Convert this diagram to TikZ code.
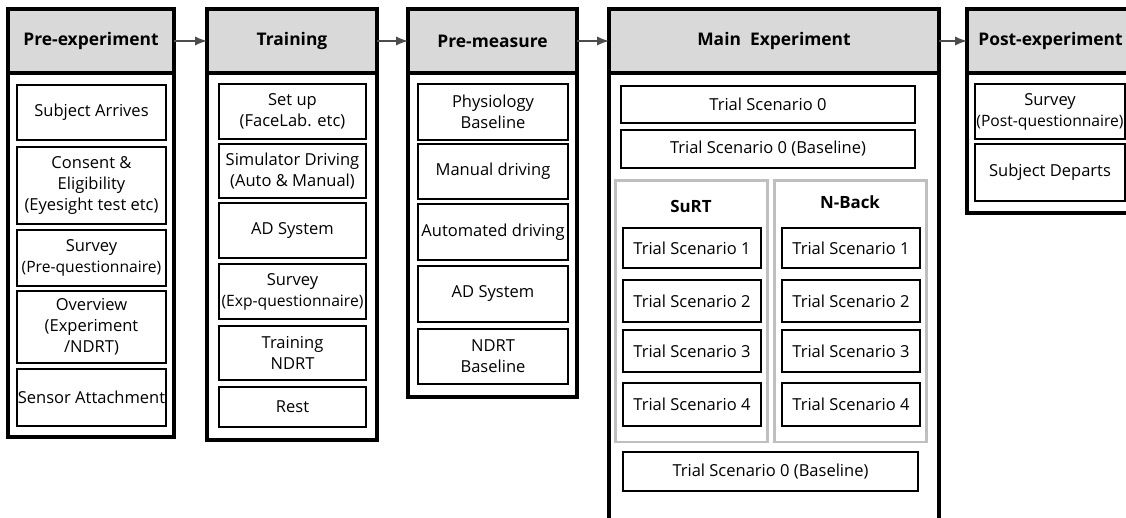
\documentclass[tikz,border=0pt]{standalone}
\usepackage{fontspec}
\setmainfont{Open Sans}
\begin{document}
\begin{tikzpicture}[x=0.2mm, y=-0.2mm,
    head/.style={draw, line width=1.8pt, fill=black!15, inner sep=0, outer sep=0,
        minimum height=12.8mm, font=\bfseries\fontsize{9.9}{12}\selectfont},
    frame/.style={line width=1.8pt},
    item/.style={draw, line width=0.7pt, align=center, inner sep=0,
        font=\fontsize{9.4}{11.9}\selectfont},
    group/.style={draw=black!25, line width=1.7pt},
    flow/.style={-latex, draw=black!70, line width=1.3pt}]
    \path[use as bounding box, clip] (0,0) rectangle (1126,518);

    % stage headers and frames
    \node[head, minimum width=33.2mm] (pre) at (91,41) {Pre-experiment};
    \draw[frame] (pre.north west) rectangle (174,437);
    \node[head, minimum width=34mm] (train) at (292,41) {Training};
    \draw[frame] (train.north west) rectangle (377,440);
    \node[head, minimum width=33.8mm] (meas) at (492.5,41) {Pre-measure};
    \draw[frame] (meas.north west) rectangle (577,397);
    \node[head, minimum width=66mm] (main) at (774,41) {Main\ \ Experiment};
    \draw[frame] (main.north west) rectangle (939,560);
    \node[head, minimum width=33.4mm] (post) at (1050.5,41) {Post-experiment};
    \draw[frame] (post.north west) rectangle (1134,213);

    \draw[flow] (pre) -- (train);
    \draw[flow] (train) -- (meas);
    \draw[flow] (meas) -- (main);
    \draw[flow] (main) -- (post);

    % pre-experiment
    \foreach \n/\y/\h/\t in {p1/112.5/11/{Subject Arrives},
        p2/185.5/15.4/{Consent \&\\Eligibility\\(Eyesight test etc)},
        p3/258/11.2/{Survey\\\makebox[0pt]{\fontsize{8.9}{11.9}\selectfont(Pre-questionnaire)}},
        p4/327/14.4/{Overview\\(Experiment\\/NDRT)},
        p5/397.5/11.4/{\makebox[0pt]{Sensor Attachment}}}
    {
        \node[item, minimum width=29.8mm, minimum height=\h mm] (\n) at (91.5,\y) {\t};
    }

    % training
    \foreach \n/\y/\h/\t in {t1/111.5/11/{Set up\\(FaceLab. etc)},
        t2/171/10.8/{\makebox[0pt]{Simulator Driving}\\(Auto \& Manual)},
        t3/230.5/11/{AD System},
        t4/291.5/11/{Survey\\\makebox[0pt]{\fontsize{8.9}{11.9}\selectfont(Exp-questionnaire)}},
        t5/353/10.8/{Training\\NDRT},
        t6/407/8/{Rest}}
    {
        \node[item, minimum width=29.4mm, minimum height=\h mm] (\n) at (292.5,\y) {\t};
    }

    % pre-measure
    \foreach \n/\y/\h/\t in {m1/112/11.2/{Physiology\\Baseline},
        m2/171.5/11/{Manual driving},
        m3/232/11.2/{\makebox[0pt]{Automated driving}},
        m4/294/11.2/{AD System},
        m5/356.5/11/{NDRT\\Baseline}}
    {
        \node[item, minimum width=30mm, minimum height=\h mm] (\n) at (493,\y) {\t};
    }

    % main experiment
    \node[item, minimum width=58.8mm, minimum height=7.4mm] (s0) at (768,104.5) {Trial Scenario 0};
    \node[item, minimum width=58.8mm, minimum height=7.6mm] (s0b) at (768,149) {Trial Scenario 0 (Baseline)};
    \node[group, minimum width=30.4mm, minimum height=52.2mm] (surt) at (691,311.5) {};
    \node[group, minimum width=30.4mm, minimum height=52.2mm] (nback) at (850,311.5) {};
    \node[font=\bfseries\fontsize{9.6}{11}\selectfont] (surtlbl) at (691,206) {SuRT};
    \node[font=\bfseries\fontsize{9.6}{11}\selectfont] (nbacklbl) at (850,202) {N-Back};
    \foreach \g/\x in {su/692, nb/851}
    {
        \foreach \i/\y/\h in {1/248/8, 2/301/8.4, 3/351/8.4, 4/404.5/8.6}
        {
            \node[item, minimum width=27.6mm, minimum height=\h mm] (\g\i) at (\x,\y) {Trial Scenario \i};
        }
    }
    \node[item, minimum width=59mm, minimum height=7.8mm] (s0e) at (770.5,471.5) {Trial Scenario 0 (Baseline)};

    % post-experiment
    \node[item, minimum width=30mm, minimum height=11mm] (q1) at (1050,111.5) {Survey\\\makebox[0pt]{\fontsize{8.9}{11.9}\selectfont(Post-questionnaire)}};
    \node[item, minimum width=30mm, minimum height=11.4mm] (q2) at (1050,172.5) {Subject Departs};
\end{tikzpicture}
\end{document}
